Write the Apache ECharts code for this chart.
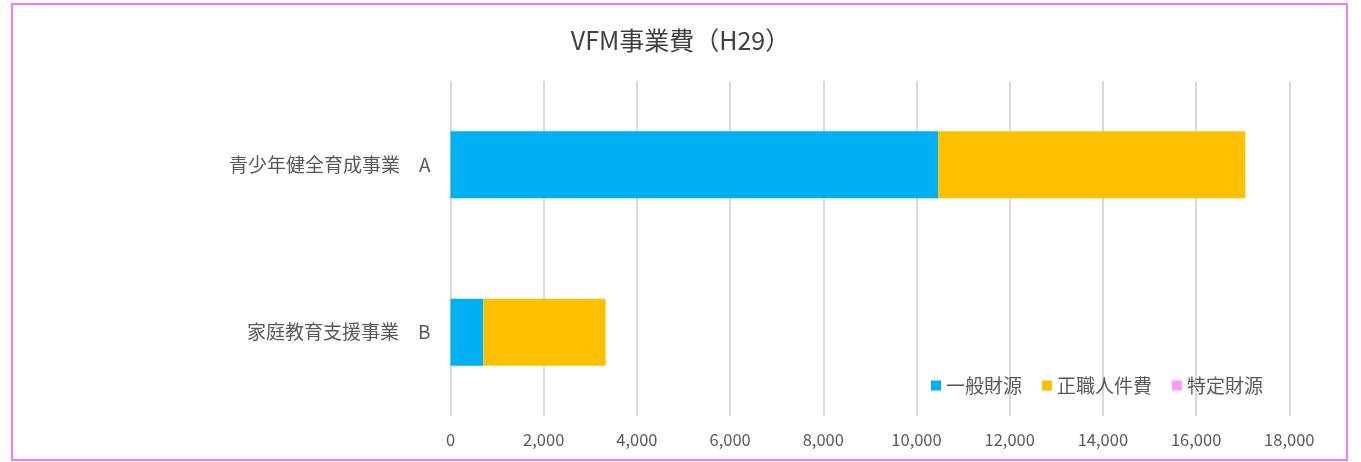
<!DOCTYPE html>
<html>
<head>
<meta charset="utf-8">
<script src="https://cdn.jsdelivr.net/npm/echarts@6/dist/echarts.min.js"></script>
<style>
  html, body { margin: 0; padding: 0; background: #ffffff; }
  #chart { width: 1361px; height: 462px; }
</style>
</head>
<body>
<div id="chart"></div>
<script>
const titleText = 'VFM事業費（H29）';
const categories = ['青少年健全育成事業　A', '家庭教育支援事業　B'];
const seriesNames = ['一般財源', '正職人件費', '特定財源'];
const generalFunds = [10468, 704];
const staffCosts = [6588, 2626];
const specificFunds = [0, 0];
const seriesColors = ['#00b0f0', '#ffc000', '#ff99ff'];
const xMin = 0, xMax = 18000, xInterval = 2000;

const font = '"Noto Sans CJK JP", "Noto Sans", sans-serif';
const chart = echarts.init(document.getElementById('chart'), null, { renderer: 'canvas' });
const seriesData = [generalFunds, staffCosts, specificFunds];

chart.setOption({
  animation: false,
  backgroundColor: '#ffffff',
  textStyle: { fontFamily: font },
  title: {
    text: titleText,
    left: 'center',
    top: 23,
    textStyle: { fontFamily: font, fontSize: 25, fontWeight: 'normal', color: '#404040' }
  },
  graphic: [{
    type: 'rect',
    shape: { x: 12, y: 4, width: 1335, height: 456 },
    style: { fill: 'none', stroke: '#f57bf5', lineWidth: 2 },
    silent: true,
    z: 100
  }],
  legend: {
    data: seriesNames,
    left: 926,
    top: 371,
    itemWidth: 10,
    itemHeight: 10,
    itemGap: 20,
    icon: 'rect',
    textStyle: { fontFamily: font, fontSize: 19, color: '#595959' }
  },
  grid: { left: 450.5, right: 71.7, top: 81, bottom: 46, containLabel: false },
  xAxis: {
    type: 'value',
    min: xMin,
    max: xMax,
    interval: xInterval,
    axisLine: { show: false },
    axisTick: { show: false },
    splitLine: { show: true, lineStyle: { color: '#d9d9d9', width: 2 } },
    axisLabel: {
      fontFamily: font,
      fontSize: 16.5,
      color: '#595959',
      margin: 15,
      formatter: v => v.toLocaleString('en-US')
    }
  },
  yAxis: {
    type: 'category',
    data: categories,
    inverse: true,
    axisLine: { show: false },
    axisTick: { show: false },
    axisLabel: { fontFamily: font, fontSize: 19, color: '#595959', margin: 20 }
  },
  series: seriesNames.map((name, i) => ({
    name: name,
    type: 'bar',
    stack: 'total',
    barWidth: 67,
    data: seriesData[i],
    itemStyle: { color: seriesColors[i] }
  }))
});
</script>
</body>
</html>
